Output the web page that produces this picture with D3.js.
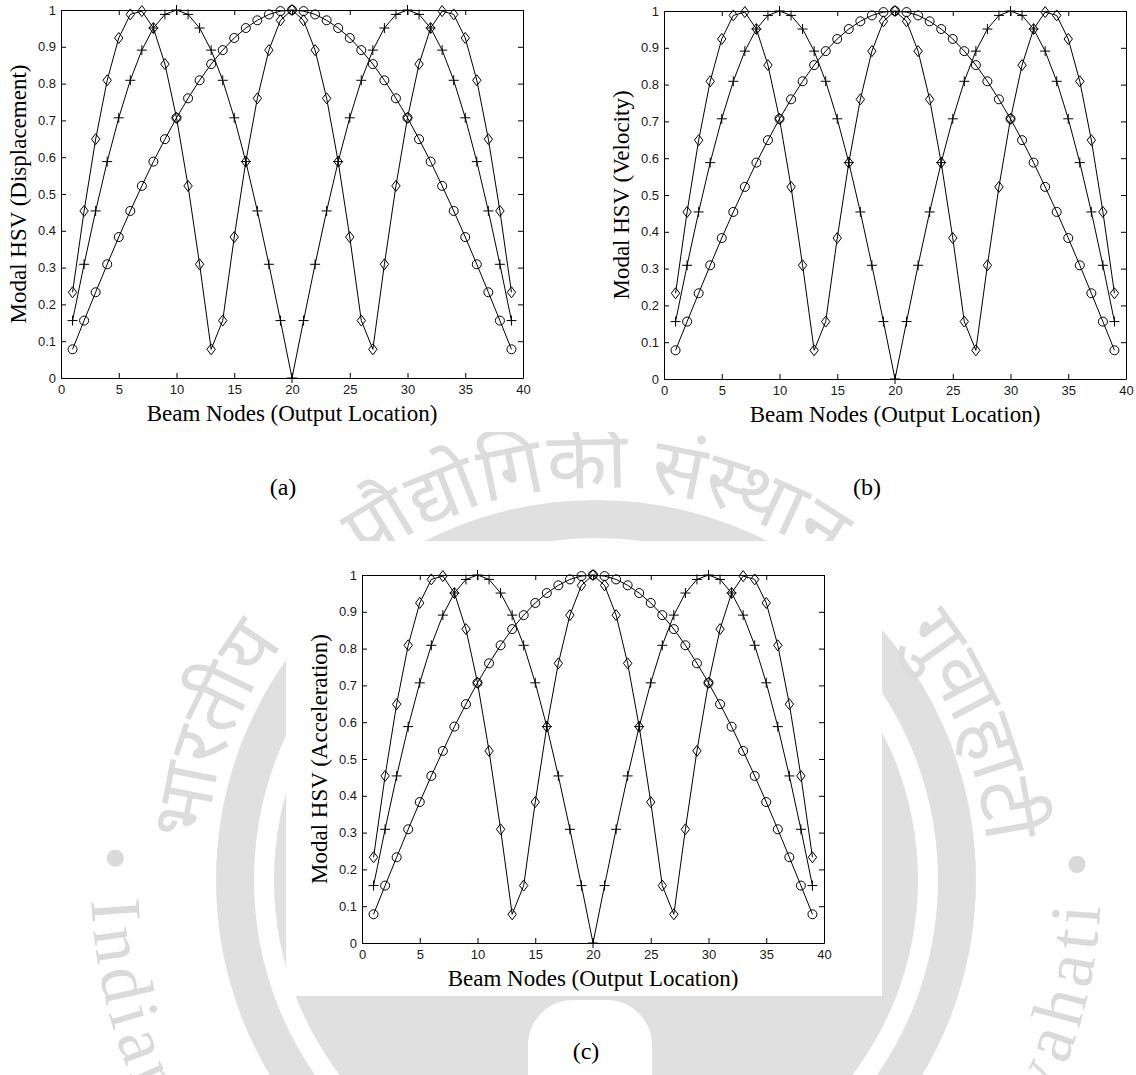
<!DOCTYPE html>
<html>
<head>
<meta charset="utf-8">
<script src="https://cdn.jsdelivr.net/npm/d3@7"></script>
<style>
  html, body { margin: 0; padding: 0; background: #fff; }
  svg { display: block; }
</style>
</head>
<body>
<div id="chart"></div>
<script>
// Beam nodes (output locations) and the modal HSV of the first three modes
const nodes = [1, 2, 3, 4, 5, 6, 7, 8, 9, 10, 11, 12, 13, 14, 15, 16, 17, 18, 19, 20,
  21, 22, 23, 24, 25, 26, 27, 28, 29, 30, 31, 32, 33, 34, 35, 36, 37, 38, 39];

// circles
const mode1 = [0.078, 0.156, 0.233, 0.309, 0.383, 0.454, 0.522, 0.588, 0.649, 0.707,
  0.760, 0.809, 0.853, 0.891, 0.924, 0.951, 0.972, 0.988, 0.997, 1.000,
  0.997, 0.988, 0.972, 0.951, 0.924, 0.891, 0.853, 0.809, 0.760, 0.707,
  0.649, 0.588, 0.522, 0.454, 0.383, 0.309, 0.233, 0.156, 0.078];

// plus signs
const mode2 = [0.156, 0.309, 0.454, 0.588, 0.707, 0.809, 0.891, 0.951, 0.988, 1.000,
  0.988, 0.951, 0.891, 0.809, 0.707, 0.588, 0.454, 0.309, 0.156, 0.000,
  0.156, 0.309, 0.454, 0.588, 0.707, 0.809, 0.891, 0.951, 0.988, 1.000,
  0.988, 0.951, 0.891, 0.809, 0.707, 0.588, 0.454, 0.309, 0.156];

// diamonds
const mode3 = [0.233, 0.454, 0.649, 0.809, 0.924, 0.988, 0.997, 0.951, 0.853, 0.707,
  0.522, 0.309, 0.078, 0.156, 0.383, 0.588, 0.760, 0.891, 0.972, 1.000,
  0.972, 0.891, 0.760, 0.588, 0.383, 0.156, 0.078, 0.309, 0.522, 0.707,
  0.853, 0.951, 0.997, 0.988, 0.924, 0.809, 0.649, 0.454, 0.233];

const xTicks = [0, 5, 10, 15, 20, 25, 30, 35, 40];
const yTicks = [0, 0.1, 0.2, 0.3, 0.4, 0.5, 0.6, 0.7, 0.8, 0.9, 1];
const yTitles = ['Modal HSV (Displacement)', 'Modal HSV (Velocity)', 'Modal HSV (Acceleration)'];
const xTitle = 'Beam Nodes (Output Location)';
const panelTags = ['(a)', '(b)', '(c)'];

// watermark seal texts
const sealTop = ['भारतीय', 'प्रौद्योगिकी संस्थान', 'गुवाहाटी'];
const sealBottom = ['\u2022 Indian', 'Guwahati \u2022'];

// layout of the three pasted figures
const panels = [
    { left: 61, top: 10, tagX: 283, tagY: 495 },
    { left: 664, top: 11, tagX: 867, tagY: 495 },
    { left: 362, top: 575, tagX: 586, tagY: 1059 }
];
const plotW = 462;
const plotH = 368;

const serif = '"Liberation Serif", "Times New Roman", Times, serif';
const sans = '"Liberation Sans", Arial, Helvetica, sans-serif';

const svg = d3.select('#chart')
    .append('svg')
    .attr('width', 1136)
    .attr('height', 1075);

const defs = svg.append('defs');

drawWatermark();

// white backgrounds of the figure images
svg.append('rect').attr('x', 0).attr('y', 0).attr('width', 1136).attr('height', 432).attr('fill', '#fff');
svg.append('rect').attr('x', 286).attr('y', 541).attr('width', 596).attr('height', 455).attr('fill', '#fff');

panels.forEach((p, i) => drawPanel(p, i));

/**
 * Faint institute seal behind the figures
 */
function drawWatermark() {
    const cx = 596, cy = 880;
    const grey = '#e0e0e0';
    const wm = svg.append('g');

    // inner emblem
    wm.append('circle')
        .attr('cx', cx).attr('cy', cy).attr('r', 322)
        .attr('fill', grey);
    wm.append('rect')
        .attr('x', 528).attr('y', 1000).attr('width', 124).attr('height', 120).attr('rx', 45)
        .attr('fill', '#fff');

    // thick ring
    wm.append('circle')
        .attr('cx', cx).attr('cy', cy).attr('r', 361)
        .attr('fill', 'none')
        .attr('stroke', grey)
        .attr('stroke-width', 38);

    // hindi words over the top
    const rt = 392;
    defs.append('path')
        .attr('id', 'arc-top')
        .attr('d', `M${cx - rt},${cy} A${rt},${rt} 0 0 1 ${cx + rt},${cy}`);

    const topPlaces = [['3%', 'start'], ['50%', 'middle'], ['97%', 'end']];
    sealTop.forEach((t, k) => {
        wm.append('text')
            .style('font-family', '"Noto Sans Devanagari", "Noto Sans", sans-serif')
            .style('font-size', '78px')
            .attr('fill', '#dcdcdc')
            .append('textPath')
            .attr('href', '#arc-top')
            .attr('startOffset', topPlaces[k][0])
            .attr('text-anchor', topPlaces[k][1])
            .text(t);
    });

    // english text round the lower half
    const r = 505;
    const a = 4 * Math.PI / 180;
    const x1 = cx - r * Math.cos(a), x2 = cx + r * Math.cos(a), y1 = cy - r * Math.sin(a);
    defs.append('path')
        .attr('id', 'arc-bottom')
        .attr('d', `M${x1},${y1} A${r},${r} 0 1 0 ${x2},${y1}`);

    const bottomPlaces = [['0%', 'start'], ['100%', 'end']];
    sealBottom.forEach((t, k) => {
        wm.append('text')
            .style('font-family', serif)
            .style('font-size', '72px')
            .style('letter-spacing', '6px')
            .attr('fill', '#dadada')
            .append('textPath')
            .attr('href', '#arc-bottom')
            .attr('startOffset', bottomPlaces[k][0])
            .attr('text-anchor', bottomPlaces[k][1])
            .text(t);
    });
}

/**
 * Draw one HSV panel
 */
function drawPanel(p, i) {
    const g = svg.append('g')
        .attr('transform', `translate(${p.left},${p.top})`);

    const x = d3.scaleLinear().domain([0, 40]).range([0, plotW]);
    const y = d3.scaleLinear().domain([0, 1]).range([plotH, 0]);

    // box axes with inward ticks
    const bottom = g.append('g')
        .attr('transform', `translate(0,${plotH})`)
        .call(d3.axisBottom(x).tickValues(xTicks).tickFormat(d3.format('d'))
            .tickSize(-5).tickSizeOuter(0).tickPadding(7));
    g.append('g')
        .call(d3.axisTop(x).tickValues(xTicks).tickFormat('')
            .tickSize(-5).tickSizeOuter(0));
    const left = g.append('g')
        .call(d3.axisLeft(y).tickValues(yTicks).tickFormat(d3.format('~g'))
            .tickSize(-5).tickSizeOuter(0).tickPadding(5));
    g.append('g')
        .attr('transform', `translate(${plotW},0)`)
        .call(d3.axisRight(y).tickValues(yTicks).tickFormat('')
            .tickSize(-5).tickSizeOuter(0));

    [bottom, left].forEach(a => a
        .attr('font-family', sans)
        .attr('font-size', 13)
        .selectAll('text')
        .attr('fill', '#1a1a1a'));

    // series
    const series = [
        { values: mode1, marker: 'circle' },
        { values: mode2, marker: 'plus' },
        { values: mode3, marker: 'diamond' }
    ];

    const line = d3.line()
        .x(d => x(d[0]))
        .y(d => y(d[1]));

    series.forEach(s => {
        const pts = nodes.map((n, k) => [n, s.values[k]]);

        g.append('path')
            .datum(pts)
            .attr('d', line)
            .style('fill', 'none')
            .style('stroke', '#000')
            .style('stroke-width', '1px');

        const marks = g.selectAll(null)
            .data(pts)
            .enter();

        if (s.marker === 'circle') {
            marks.append('circle')
                .attr('cx', d => x(d[0]))
                .attr('cy', d => y(d[1]))
                .attr('r', 4.5)
                .style('fill', 'none')
                .style('stroke', '#000');
        } else {
            const shape = s.marker === 'plus'
                ? 'M-5,0H5M0,-5V5'
                : 'M0,-5.5L4.2,0L0,5.5L-4.2,0Z';
            marks.append('path')
                .attr('transform', d => `translate(${x(d[0])},${y(d[1])})`)
                .attr('d', shape)
                .style('fill', 'none')
                .style('stroke', '#000');
        }
    });

    // axis titles
    g.append('text')
        .attr('x', plotW / 2)
        .attr('y', plotH + 43)
        .style('text-anchor', 'middle')
        .style('font-family', serif)
        .style('font-size', '23px')
        .text(xTitle);

    g.append('text')
        .attr('transform', `translate(-35,${plotH / 2}) rotate(-90)`)
        .style('text-anchor', 'middle')
        .style('font-family', serif)
        .style('font-size', '23px')
        .text(yTitles[i]);

    // panel tag
    svg.append('text')
        .attr('x', p.tagX)
        .attr('y', p.tagY)
        .style('text-anchor', 'middle')
        .style('font-family', serif)
        .style('font-size', '24px')
        .text(panelTags[i]);
}
</script>
</body>
</html>
